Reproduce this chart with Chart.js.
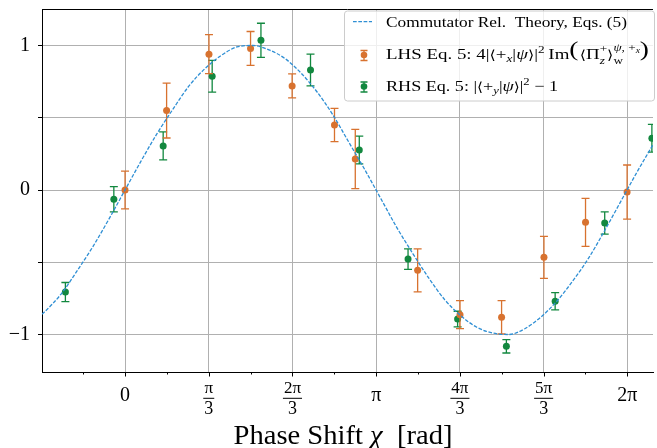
<!DOCTYPE html>
<html lang="en">
<head>
    <meta charset="UTF-8">
    <title>Phase Shift</title>
    <style>
        body {
            margin: 0;
            background: #ffffff;
            overflow: hidden;
        }
        #chart {
            display: block;
        }
    </style>
</head>
<body>
    <canvas id="chart" width="657" height="448"></canvas>

    <script src="https://cdn.jsdelivr.net/npm/chart.js"></script>
    <script>
        // theory curve
        const theoryX = [-1.04, -1.0, -0.8, -0.6, -0.4, -0.2, 0.0, 0.2, 0.4, 0.6, 0.8, 1.0, 1.2, 1.4, 1.6, 1.8, 2.0,
            2.2, 2.4, 2.6, 2.8, 3.0, 3.2, 3.4, 3.6, 3.8, 4.0, 4.2, 4.4, 4.6, 4.8, 5.0, 5.2, 5.4, 5.6, 5.8, 6.0, 6.2, 6.4, 6.6];
        const theoryY = [-0.86, -0.84, -0.72, -0.56, -0.39, -0.20, 0.00, 0.20, 0.39, 0.56, 0.72, 0.84, 0.93, 0.99, 1.00, 0.97, 0.91,
            0.81, 0.68, 0.52, 0.33, 0.14, -0.06, -0.26, -0.44, -0.61, -0.76, -0.87, -0.95, -0.99, -1.00, -0.96, -0.88, -0.77, -0.63, -0.47, -0.28, -0.08, 0.12, 0.31];

        // LHS Eq. 5 (orange)
        const lhsX = [0.00, 0.52, 1.05, 1.57, 2.09, 2.62, 2.88, 3.66, 4.19, 4.71, 5.24, 5.76, 6.28];
        const lhsY = [0.00, 0.55, 0.94, 0.98, 0.72, 0.45, 0.215, -0.556, -0.863, -0.881, -0.466, -0.224, -0.014];
        const lhsErr = [0.13, 0.19, 0.135, 0.117, 0.083, 0.115, 0.205, 0.149, 0.097, 0.115, 0.145, 0.166, 0.187];

        // RHS Eq. 5 (green)
        const rhsX = [-0.746, -0.14, 0.477, 1.09, 1.70, 2.32, 2.93, 3.54, 4.16, 4.77, 5.38, 6.00, 6.59];
        const rhsY = [-0.706, -0.064, 0.305, 0.787, 1.036, 0.83, 0.277, -0.478, -0.893, -1.082, -0.77, -0.228, 0.358];
        const rhsErr = [0.066, 0.087, 0.097, 0.11, 0.118, 0.11, 0.096, 0.071, 0.054, 0.046, 0.06, 0.077, 0.096];

        // axes
        const xTickValues = [0, Math.PI / 3, 2 * Math.PI / 3, Math.PI, 4 * Math.PI / 3, 5 * Math.PI / 3, 2 * Math.PI];
        const xTickLabels = ['0', 'π/3', '2π/3', 'π', '4π/3', '5π/3', '2π'];
        const xMinorValues = [-Math.PI / 6, Math.PI / 6, Math.PI / 2, 5 * Math.PI / 6, 7 * Math.PI / 6, 3 * Math.PI / 2, 11 * Math.PI / 6];
        const yTickValues = [-1, -0.5, 0, 0.5, 1];
        const yTickLabels = ['−1', '', '0', '', '1'];

        const BLUE = '#2f8fd4';
        const ORANGE = '#d8722f';
        const GREEN = '#12883f';
        const GRID = '#b0b0b0';
        const SERIF = "'Liberation Serif', 'DejaVu Serif', serif";

        function fontStr(size, italic) {
            return (italic ? 'italic ' : '') + size + 'px ' + SERIF;
        }

        // small helper for text runs with sub/superscripts
        function runWidth(ctx, r, base) {
            if (r.sup || r.sub) {
                return Math.max(listWidth(ctx, r.sup || [], base), listWidth(ctx, r.sub || [], base));
            }
            ctx.font = fontStr(base * (r.s || 1), r.i);
            return ctx.measureText(r.t).width + (r.k || 0);
        }

        function listWidth(ctx, list, base) {
            let w = 0;
            for (const r of list) w += runWidth(ctx, r, base);
            return w;
        }

        function drawList(ctx, list, x, y, base) {
            for (const r of list) {
                if (r.sup || r.sub) {
                    drawList(ctx, r.sup || [], x, y, base);
                    drawList(ctx, r.sub || [], x, y, base);
                } else {
                    ctx.font = fontStr(base * (r.s || 1), r.i);
                    ctx.fillText(r.t, x, y + (r.dy || 0) * base);
                }
                x += runWidth(ctx, r, base);
            }
        }

        function drawFitted(ctx, list, x, y, base, width, center) {
            const w = listWidth(ctx, list, base);
            const sx = width / w;
            ctx.save();
            ctx.translate(center ? x - width / 2 : x, y);
            ctx.scale(sx, 1);
            ctx.textAlign = 'left';
            ctx.textBaseline = 'alphabetic';
            drawList(ctx, list, 0, 0, base);
            ctx.restore();
        }

        const legendRows = [
            [{ t: 'Commutator Rel.  Theory, Eqs. (5)' }],
            [
                { t: 'LHS Eq. 5: 4|' }, { t: '⟨', s: 0.85 }, { t: '+' }, { t: 'x', i: 1, s: 0.7, dy: 0.2 }, { t: '|' },
                { t: 'ψ', i: 1 }, { t: '⟩', s: 0.85 }, { t: '|' },
                { t: '2', s: 0.7, dy: -0.42, k: 3 }, { t: 'Im' }, { t: '(', s: 1.45, dy: -0.18, k: 1 },
                { t: '⟨', s: 0.85 }, { t: 'Π' },
                { sup: [{ t: '+', s: 0.7, dy: -0.45 }], sub: [{ t: 'z', i: 1, s: 0.7, dy: 0.3 }] },
                { t: '⟩', s: 0.85 },
                { sup: [{ t: 'ψ', i: 1, s: 0.7, dy: -0.55 }, { t: ', +', s: 0.7, dy: -0.55 }, { t: 'x', i: 1, s: 0.5, dy: -0.42 }],
                  sub: [{ t: 'w', s: 0.7, dy: 0.3 }] },
                { t: ')', s: 1.45, dy: -0.18 }
            ],
            [
                { t: 'RHS Eq. 5: |' }, { t: '⟨', s: 0.85 }, { t: '+' }, { t: 'y', i: 1, s: 0.7, dy: 0.2 }, { t: '|' },
                { t: 'ψ', i: 1 }, { t: '⟩', s: 0.85 }, { t: '|' },
                { t: '2', s: 0.7, dy: -0.42 }, { t: ' − 1' }
            ]
        ];
        const legendWidths = [241, 263, 172];
        const legendBaselines = [27.3, 59, 91.3];

        const errorBars = {
            id: 'errorBars',
            beforeDatasetDraw(chart, args) {
                const ds = chart.data.datasets[args.index];
                if (!ds.errors) return;
                const { ctx, chartArea, scales } = chart;
                ctx.save();
                ctx.beginPath();
                ctx.rect(chartArea.left, chartArea.top, chartArea.right - chartArea.left, chartArea.bottom - chartArea.top);
                ctx.clip();
                ctx.strokeStyle = ds.backgroundColor;
                ctx.lineWidth = 1.3;
                ds.data.forEach((p, i) => {
                    const px = scales.x.getPixelForValue(p.x);
                    const top = scales.y.getPixelForValue(p.y + ds.errors[i]);
                    const bot = scales.y.getPixelForValue(p.y - ds.errors[i]);
                    ctx.beginPath();
                    ctx.moveTo(px, top);
                    ctx.lineTo(px, bot);
                    ctx.moveTo(px - 4, top);
                    ctx.lineTo(px + 4, top);
                    ctx.moveTo(px - 4, bot);
                    ctx.lineTo(px + 4, bot);
                    ctx.stroke();
                });
                ctx.restore();
            }
        };

        const decorations = {
            id: 'decorations',
            afterDraw(chart) {
                const { ctx, chartArea, scales } = chart;
                ctx.save();
                ctx.fillStyle = '#000';
                ctx.strokeStyle = '#000';
                ctx.lineWidth = 1;

                // top frame line
                ctx.beginPath();
                ctx.moveTo(chartArea.left, chartArea.top + 0.5);
                ctx.lineTo(chartArea.right, chartArea.top + 0.5);
                ctx.stroke();

                // x tick marks
                const b = chartArea.bottom;
                xTickValues.forEach(v => {
                    const px = Math.round(scales.x.getPixelForValue(v)) + 0.5;
                    ctx.beginPath();
                    ctx.moveTo(px, b);
                    ctx.lineTo(px, b + 4.5);
                    ctx.stroke();
                });
                xMinorValues.forEach(v => {
                    const px = Math.round(scales.x.getPixelForValue(v)) + 0.5;
                    ctx.beginPath();
                    ctx.moveTo(px, b);
                    ctx.lineTo(px, b + 2.5);
                    ctx.stroke();
                });

                // x tick labels, fractions drawn stacked
                ctx.textAlign = 'center';
                ctx.textBaseline = 'alphabetic';
                xTickLabels.forEach((lab, i) => {
                    const px = scales.x.getPixelForValue(xTickValues[i]);
                    const parts = lab.split('/');
                    if (parts.length === 1) {
                        ctx.font = fontStr(20);
                        ctx.fillText(lab, px, 400.5);
                    } else {
                        ctx.font = fontStr(17);
                        const wn = ctx.measureText(parts[0]).width;
                        ctx.fillText(parts[0], px, 392.5);
                        ctx.font = fontStr(18);
                        ctx.fillText(parts[1], px, 413.7);
                        const w = Math.max(wn, 9) + 2;
                        ctx.fillRect(px - w / 2, 397.8, w, 1);
                    }
                });

                // axis title
                drawFitted(ctx, [{ t: 'Phase Shift ' }, { t: 'χ', i: 1 }, { t: '  [rad]' }], 343, 444, 27, 219, true);

                // legend box
                ctx.beginPath();
                ctx.roundRect(344.5, 11, 310, 90, 3);
                ctx.fillStyle = 'rgba(255,255,255,0.8)';
                ctx.fill();
                ctx.strokeStyle = '#cccccc';
                ctx.stroke();

                // legend handles
                ctx.strokeStyle = BLUE;
                ctx.lineWidth = 1.3;
                ctx.setLineDash([3.7, 1.6]);
                ctx.beginPath();
                ctx.moveTo(353, 21.7);
                ctx.lineTo(372, 21.7);
                ctx.stroke();
                ctx.setLineDash([]);
                [[ORANGE, 55.5], [GREEN, 87]].forEach(([c, cy]) => {
                    ctx.strokeStyle = c;
                    ctx.fillStyle = c;
                    ctx.beginPath();
                    ctx.moveTo(364, cy - 5);
                    ctx.lineTo(364, cy + 5);
                    ctx.moveTo(360.5, cy - 5);
                    ctx.lineTo(367.5, cy - 5);
                    ctx.moveTo(360.5, cy + 5);
                    ctx.lineTo(367.5, cy + 5);
                    ctx.stroke();
                    ctx.beginPath();
                    ctx.arc(364, cy - 0.5, 3.3, 0, Math.PI * 2);
                    ctx.fill();
                });

                // legend text
                ctx.fillStyle = '#000';
                legendRows.forEach((row, i) => {
                    drawFitted(ctx, row, 386, legendBaselines[i], 15, legendWidths[i], false);
                });

                ctx.restore();
            }
        };

        const ctx = document.getElementById('chart').getContext('2d');
        const chart = new Chart(ctx, {
            type: 'scatter',
            data: {
                datasets: [
                    {
                        label: 'Commutator Rel. Theory, Eqs. (5)',
                        type: 'line',
                        data: theoryX.map((x, i) => ({ x: x, y: theoryY[i] })),
                        borderColor: BLUE,
                        borderWidth: 1.3,
                        borderDash: [3.7, 1.6],
                        pointRadius: 0,
                        fill: false,
                        cubicInterpolationMode: 'monotone'
                    },
                    {
                        label: 'LHS Eq. 5',
                        data: lhsX.map((x, i) => ({ x: x, y: lhsY[i] })),
                        errors: lhsErr,
                        backgroundColor: ORANGE,
                        borderWidth: 0,
                        pointRadius: 3.5
                    },
                    {
                        label: 'RHS Eq. 5',
                        data: rhsX.map((x, i) => ({ x: x, y: rhsY[i] })),
                        errors: rhsErr,
                        backgroundColor: GREEN,
                        borderWidth: 0,
                        pointRadius: 3.5
                    }
                ]
            },
            options: {
                responsive: false,
                animation: false,
                devicePixelRatio: 1,
                layout: { padding: { top: 9, right: 0, left: 0, bottom: 0 } },
                plugins: {
                    legend: { display: false },
                    tooltip: { enabled: false }
                },
                scales: {
                    x: {
                        type: 'linear',
                        min: -1.0386,
                        max: 6.604,
                        afterBuildTicks: scale => {
                            scale.ticks = xTickValues.map(v => ({ value: v }));
                        },
                        afterFit: scale => {
                            scale.height = 76;
                            scale.paddingLeft = 0;
                            scale.paddingRight = 0;
                        },
                        ticks: { display: false },
                        grid: { color: GRID, lineWidth: 1, drawTicks: false },
                        border: { display: true, color: '#000', width: 1 }
                    },
                    y: {
                        type: 'linear',
                        min: -1.2595,
                        max: 1.2526,
                        afterBuildTicks: scale => {
                            scale.ticks = yTickValues.map(v => ({ value: v }));
                        },
                        afterFit: scale => {
                            scale.width = 42;
                            scale.paddingTop = 0;
                            scale.paddingBottom = 0;
                        },
                        ticks: {
                            color: '#000',
                            padding: 8,
                            font: { family: SERIF, size: 20 },
                            callback: (v, i) => yTickLabels[i]
                        },
                        grid: { color: GRID, lineWidth: 1, drawTicks: true, tickLength: 4, tickColor: '#000' },
                        border: { display: true, color: '#000', width: 1 }
                    }
                }
            },
            plugins: [errorBars, decorations]
        });
    </script>
</body>
</html>
